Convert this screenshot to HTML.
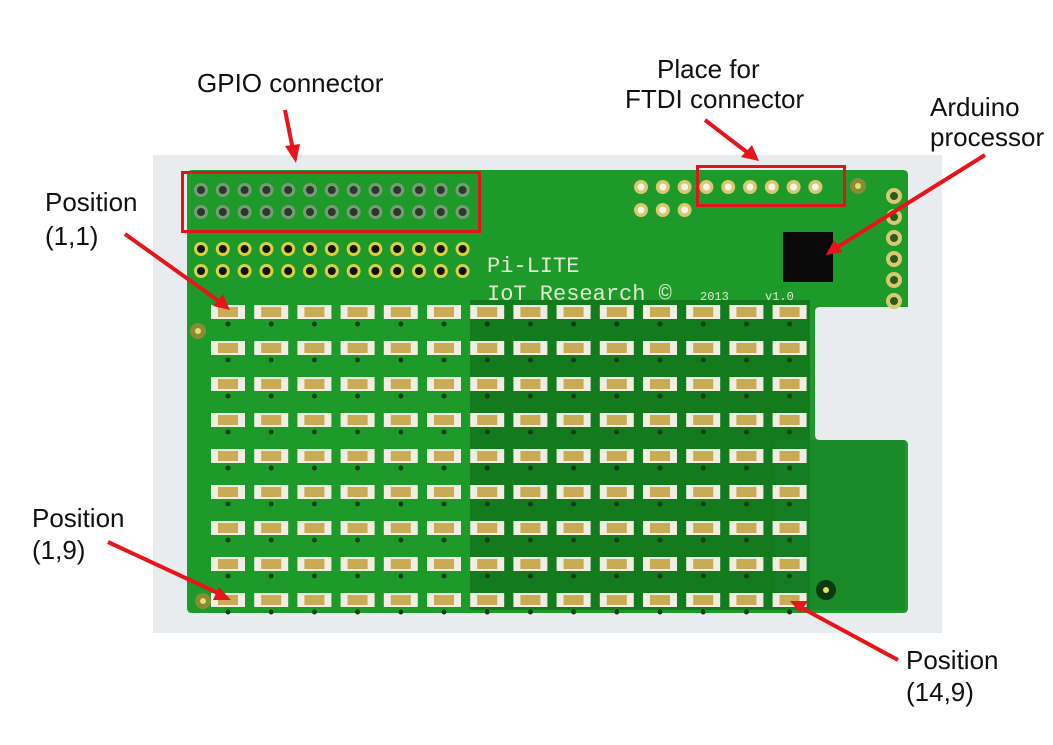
<!DOCTYPE html>
<html><head><meta charset="utf-8"><style>
html,body{margin:0;padding:0;background:#fff;}
svg{display:block;}
text{font-family:"Liberation Sans",Arial,sans-serif;font-size:26px;fill:#111;}
</style></head><body>
<svg id="s" width="1053" height="745" viewBox="0 0 1053 745" xmlns="http://www.w3.org/2000/svg">
<rect x="153" y="155" width="789" height="478" fill="#e8ecee"/>
<path d="M192,170 H903 Q908,170 908,175 V307 H820 Q815,307 815,312 V435 Q815,440 820,440 H903 Q908,440 908,445 V608 Q908,613 903,613 H192 Q187,613 187,608 V175 Q187,170 192,170 Z" fill="#1e9a2a"/>
<rect x="470" y="300" width="340" height="310" fill="#137a1e"/>
<rect x="775" y="440" width="130" height="170" fill="#17812a" opacity="0.6"/>
<g id="leds"></g>
<g id="pins"></g>
<rect x="783" y="232" width="50" height="50" fill="#0a0a0a"/>
<circle cx="858" cy="186" r="8" fill="#8a8a3a"/><circle cx="858" cy="186" r="3" fill="#e8e060"/>
<circle cx="198" cy="331" r="8" fill="#8a8a3a"/><circle cx="198" cy="331" r="3" fill="#e8e060"/>
<circle cx="203" cy="601" r="8" fill="#8a8a3a"/><circle cx="203" cy="601" r="3" fill="#e8e060"/>
<circle cx="826" cy="590" r="10" fill="#0a3a10"/><circle cx="826" cy="590" r="3" fill="#e8e060"/>
<text x="487" y="272" style="font-size:22px;fill:#dfe8cf;font-family:'Liberation Mono',monospace">Pi-LITE</text>
<text x="487" y="300" style="font-size:22px;fill:#dfe8cf;font-family:'Liberation Mono',monospace">IoT Research ©</text>
<text x="700" y="300" style="font-size:12px;fill:#dfe8cf;font-family:'Liberation Mono',monospace">2013</text>
<text x="765" y="300" style="font-size:12px;fill:#dfe8cf;font-family:'Liberation Mono',monospace">v1.0</text>
<rect x="182.5" y="172.5" width="297" height="59" fill="none" stroke="#e0141c" stroke-width="3"/>
<rect x="697.5" y="166.5" width="147" height="39" fill="none" stroke="#e0141c" stroke-width="3"/>
<g stroke="#e8141c" stroke-width="4" fill="none">
<line x1="285" y1="110" x2="293" y2="150"/>
<line x1="705" y1="120" x2="748" y2="153"/>
<line x1="985" y1="155" x2="836" y2="248"/>
<line x1="125" y1="234" x2="220" y2="302"/>
<line x1="108" y1="542" x2="220" y2="594"/>
<line x1="898" y1="660" x2="800" y2="607"/>
</g>
<g fill="#e8141c">
<polygon points="296,163 285,146 300,144"/>
<polygon points="759,161 741,157 752,145"/>
<polygon points="826,255 834,240 843,252"/>
<polygon points="230,310 213,306 223,294"/>
<polygon points="231,600 213,600 219,587"/>
<polygon points="790,601 808,601 800,613"/>
</g>
<text x="197" y="92">GPIO connector</text>
<text x="657" y="78">Place for</text>
<text x="625" y="108">FTDI connector</text>
<text x="930" y="116">Arduino</text>
<text x="930" y="146">processor</text>
<text x="45" y="211">Position</text>
<text x="45" y="245">(1,1)</text>
<text x="32" y="527">Position</text>
<text x="32" y="559">(1,9)</text>
<text x="906" y="669">Position</text>
<text x="906" y="701">(14,9)</text>
</svg>
<script>
var NS="http://www.w3.org/2000/svg";
function el(p,t,a){var e=document.createElementNS(NS,t);for(var k in a)e.setAttribute(k,a[k]);p.appendChild(e);return e;}
var L=document.getElementById("leds");
for(var r=0;r<9;r++)for(var c=0;c<14;c++){
 var x=228+c*43.2,y=312+r*36;
 el(L,"rect",{x:x-17,y:y-7,width:34,height:14,fill:"#eeeee2"});
 el(L,"rect",{x:x-10,y:y-5,width:20,height:10,fill:"#c9aa55"});
 el(L,"circle",{cx:x,cy:y+12,r:2.5,fill:"#0a3a10"});
}
var P=document.getElementById("pins");
for(var i=0;i<13;i++){var x=201+i*21.8;
 [190,212].forEach(function(y){el(P,"circle",{cx:x,cy:y,r:7,fill:"#7a9a78"});el(P,"circle",{cx:x,cy:y,r:4,fill:"#2a3a2a"});});
 [249,271].forEach(function(y){el(P,"circle",{cx:x,cy:y,r:7,fill:"#d8d040"});el(P,"circle",{cx:x,cy:y,r:4,fill:"#111"});});
}
for(var i=0;i<9;i++){var x=641+i*21.8;el(P,"circle",{cx:x,cy:187,r:7,fill:"#d8c870"});el(P,"circle",{cx:x,cy:187,r:3.5,fill:"#f4f4ee"});}
for(var i=0;i<3;i++){var x=641+i*21.8;el(P,"circle",{cx:x,cy:210,r:7,fill:"#d8c870"});el(P,"circle",{cx:x,cy:210,r:3.5,fill:"#f4f4ee"});}
for(var i=0;i<6;i++){var y=196+i*21;el(P,"circle",{cx:894,cy:y,r:8,fill:"#d8c870"});el(P,"circle",{cx:894,cy:y,r:4,fill:"#2a5a20"});}
</script>
</body></html>
